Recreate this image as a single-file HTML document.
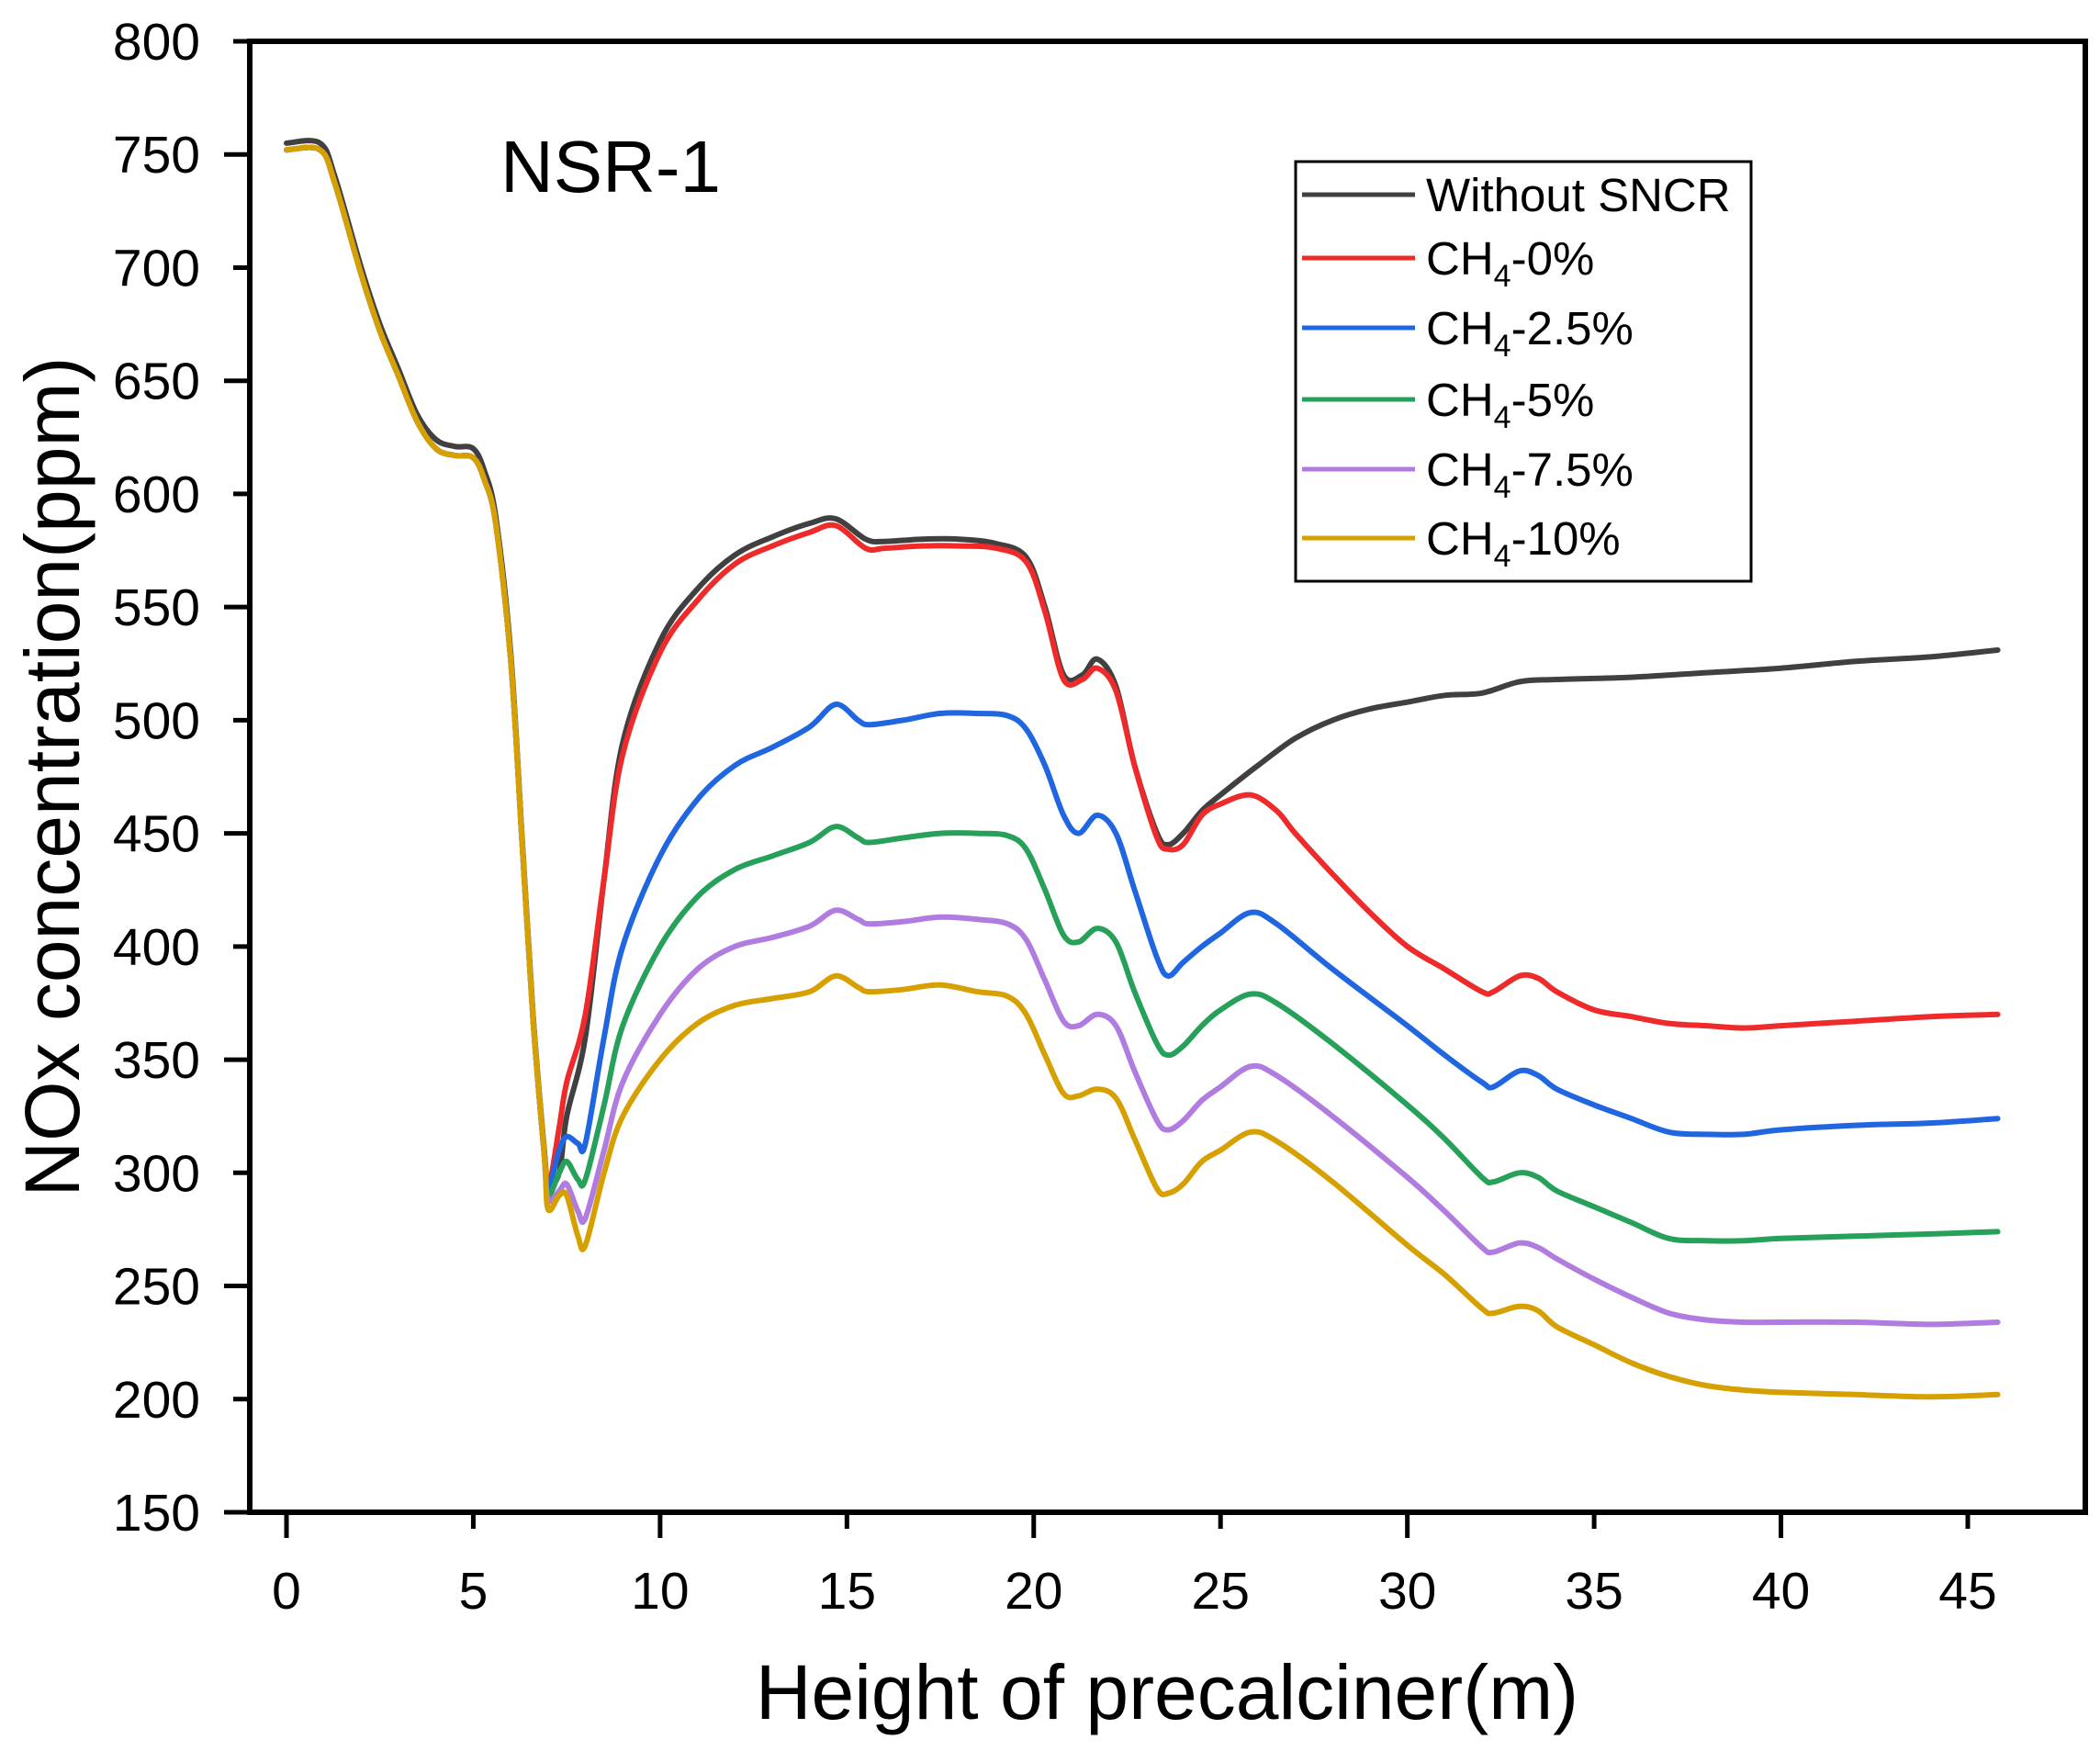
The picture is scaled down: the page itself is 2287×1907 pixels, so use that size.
<!DOCTYPE html>
<html><head><meta charset="utf-8">
<style>
html,body{margin:0;padding:0;background:#fff;}
svg{display:block;font-family:"Liberation Sans",Arial,sans-serif;}
</style></head>
<body>
<svg id="chart" width="2287" height="1907" viewBox="0 0 2287 1907">
  <rect x="0" y="0" width="2287" height="1907" fill="#fff"/>
  <g id="ticks"></g>
  <g id="series"></g>
  <rect x="272" y="45" width="1999" height="1602" fill="none" stroke="#000" stroke-width="6"/>
  <text x="545" y="209" font-size="80" fill="#000">NSR-1</text>
  <text x="1271" y="1872" font-size="84" text-anchor="middle" fill="#000">Height of precalciner(m)</text>
  <text transform="translate(86,846) rotate(-90)" font-size="84" text-anchor="middle" fill="#000">NOx concentration(ppm)</text>
  <g id="legend">
    <rect x="1411" y="176" width="496" height="457" fill="#fff" stroke="#000" stroke-width="3"/>
  </g>
</svg>
<script>
const xTicks=[0,5,10,15,20,25,30,35,40,45];
const yTicks=[150,200,250,300,350,400,450,500,550,600,650,700,750,800];
const seriesNames=["Without SNCR","CH4-0%","CH4-2.5%","CH4-5%","CH4-7.5%","CH4-10%"];
const seriesColors=["#404040","#ee2a2a","#1f66e0","#27a05a","#b07ce0","#d6a000"];
const xBlack=[0,0.9,1.3,2,2.5,3,3.5,4,4.5,5,5.3,5.6,6,6.3,6.6,6.9,7,7.3,7.5,8,8.5,9,10,11,12,13,14,14.7,15.5,16,17,18,19,19.8,20.3,20.8,21.3,21.7,22.2,22.7,23.3,23.6,24,24.5,25,26,27,28,29,30,31,32,33,34,36,38,40,42,44,45.8];
const yBlack=[755,755,740,700,675,655,635,624,621,620,610,590,530,450,370,310,295,300,325,360,430,490,535,558,573,581,587,589,580,579,580,580,578,572,550,520,520,527,515,480,450,445,450,460,467,480,492,500,505,508,511,512,517,518,519,521,523,526,528,531];
const xStart=[0,0.9,1.3,2,2.5,3,3.5,4,4.5,5,5.3,5.6,6,6.3,6.6,6.9];
const yStart=[752,752,737,697,672,652,632,620,617,616,606,587,527,448,368,308];
const xRed=[7,7.3,7.5,8,8.5,9,10,11,12,13,14,14.7,15.5,16,17,18,19,19.8,20.3,20.8,21.3,21.7,22.2,22.7,23.3,23.6,24,24.5,25,25.8,26.5,27,28,29,30,31,32,32.3,33,33.5,34,35,36,37,38,39,40,42,44,45.8];
const yRed=[292,320,340,370,430,485,530,553,569,577,583,586,576,576,577,577,576,570,548,518,518,523,513,480,448,443,445,458,463,467,460,450,432,415,400,390,380,380,387,386,380,372,369,366,365,364,365,367,369,370];
const xLow=[7,7.3,7.5,7.8,8,8.5,9,10,11,12,13,14,14.7,15.3,15.6,16.5,17.5,18.5,19.3,19.8,20.3,20.8,21.2,21.7,22.2,22.7,23.3,23.6,24,24.5,25,25.8,26.5,28,30,31,32,32.3,33,33.5,34,35,36,37,38,39,40,42,44,45.8];
const yBlue=[293,310,316,313,313,360,400,440,465,480,488,497,507,500,498,500,503,503,502,496,480,458,450,458,450,425,395,387,393,400,406,415,410,390,365,352,340,338,345,343,337,330,324,318,317,317,319,321,322,324];
const yGreen=[290,300,305,297,297,330,365,400,422,434,440,446,453,448,446,448,450,450,449,443,425,405,402,408,402,380,357,352,356,365,372,379,375,357,330,315,298,296,300,298,292,285,278,271,270,270,271,272,273,274];
const yPurple=[288,292,295,283,280,310,340,370,390,400,404,409,416,412,410,411,413,412,410,403,385,367,365,370,365,345,323,319,323,332,338,347,343,325,298,283,267,265,269,267,262,253,245,238,235,234,234,234,233,234];
const yGold=[284,290,290,272,268,300,325,350,366,374,377,380,387,382,380,381,383,380,378,370,352,335,334,337,333,315,293,291,295,305,310,318,314,296,268,255,240,238,241,239,232,224,216,210,206,204,203,202,201,202];

const X0=312, XS=(2143-312)/45;
const Y0=45, YS=(1647-45)/650;
function sx(v){return X0+v*XS;}
function sy(v){return Y0+(800-v)*YS;}
const NS="http://www.w3.org/2000/svg";
function mk(tag,attrs,parent){const e=document.createElementNS(NS,tag);for(const k in attrs)e.setAttribute(k,attrs[k]);parent.appendChild(e);return e;}

const tg=document.getElementById('ticks');
xTicks.forEach((t,i)=>{
  const major=(i%2===0);
  const l=mk('line',{x1:sx(t),x2:sx(t),y1:1647,y2:1647+(major?28:18),stroke:'#000','stroke-width':5},tg);
  
  
  const tx=mk('text',{x:sx(t),y:1752,'font-size':57,'text-anchor':'middle',fill:'#000'},tg);
  tx.textContent=t;
  
  
});
yTicks.forEach((t,i)=>{
  const major=(i%2===0);
  const l=mk('line',{x1:272-(major?28:18),x2:272,y1:sy(t),y2:sy(t),stroke:'#000','stroke-width':5},tg);
  
  
  const tx=mk('text',{x:218,y:sy(t)+20,'font-size':57,'text-anchor':'end',fill:'#000'},tg);
  tx.textContent=t;
  
  
});

function pathFor(xs,ys){
  const p=xs.map((x,i)=>[sx(x),sy(ys[i])]);
  let d='M'+p[0][0].toFixed(1)+','+p[0][1].toFixed(1);
  for(let i=0;i<p.length-1;i++){
    const p0=p[Math.max(0,i-1)],p1=p[i],p2=p[i+1],p3=p[Math.min(p.length-1,i+2)];
    const c1x=p1[0]+(p2[0]-p0[0])/6,c1y=p1[1]+(p2[1]-p0[1])/6;
    const c2x=p2[0]-(p3[0]-p1[0])/6,c2y=p2[1]-(p3[1]-p1[1])/6;
    d+=' C'+c1x.toFixed(1)+','+c1y.toFixed(1)+' '+c2x.toFixed(1)+','+c2y.toFixed(1)+' '+p2[0].toFixed(1)+','+p2[1].toFixed(1);
  }
  return d;
}
const allX=[xBlack,xStart.concat(xRed),xStart.concat(xLow),xStart.concat(xLow),xStart.concat(xLow),xStart.concat(xLow)];
const allY=[yBlack,yStart.concat(yRed),yStart.concat(yBlue),yStart.concat(yGreen),yStart.concat(yPurple),yStart.concat(yGold)];
const sg=document.getElementById('series');
for(let s=0;s<6;s++){
  const p=mk('path',{d:pathFor(allX[s],allY[s]),fill:'none',stroke:seriesColors[s],'stroke-width':6,'stroke-linejoin':'round','stroke-linecap':'round'},sg);
  
  
}
const lg=document.getElementById('legend');
const ly=[212,281,357,435,511,586];
for(let s=0;s<6;s++){
  const l=mk('line',{x1:1418,x2:1541,y1:ly[s],y2:ly[s],stroke:seriesColors[s],'stroke-width':5},lg);
  
  
  const t=mk('text',{x:1553,y:ly[s]+18,'font-size':51,fill:'#000'},lg);
  
  
  const nm=seriesNames[s];
  if(nm.startsWith('CH4')){
    t.appendChild(document.createTextNode('CH'));
    const sub=mk('tspan',{'font-size':34,dy:13},t);sub.textContent='4';
    const rest=mk('tspan',{dy:-13},t);rest.textContent=nm.slice(3);
  } else t.textContent=nm;
}
</script>
</body></html>
